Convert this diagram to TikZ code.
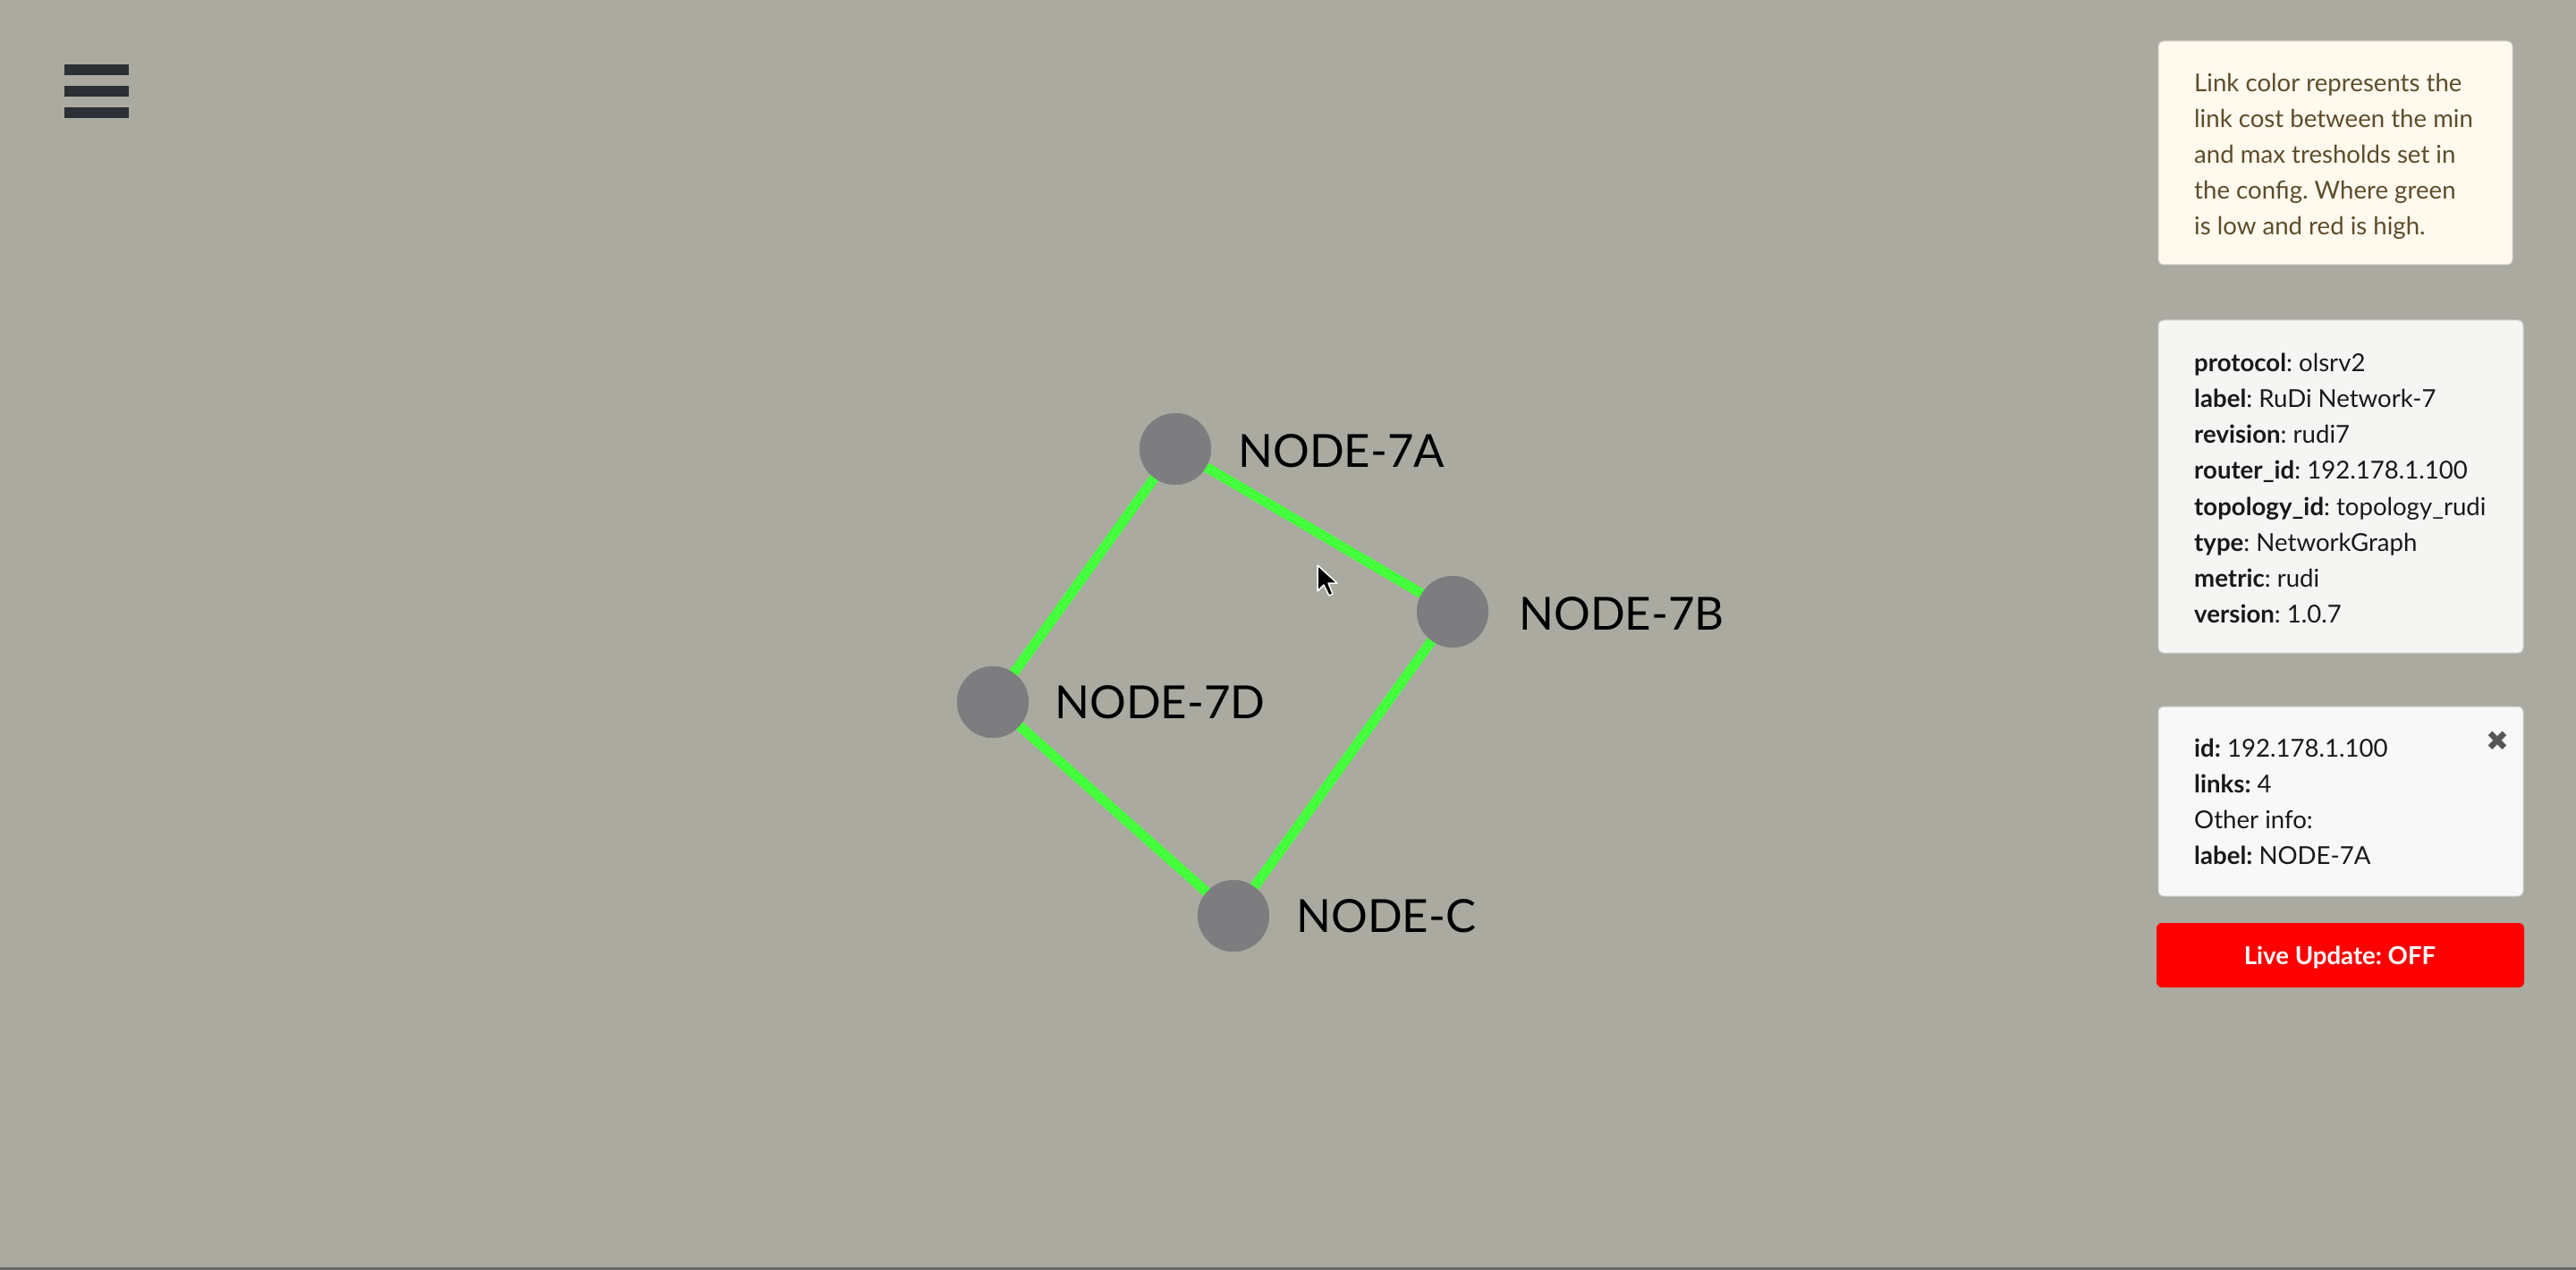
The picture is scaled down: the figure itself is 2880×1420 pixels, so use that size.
\documentclass[tikz,border=0pt]{standalone}
\usepackage{fontspec}
\setmainfont{Lato}
\newfontfamily\symfont{DejaVu Sans}
\usetikzlibrary{calc}
\frenchspacing
\definecolor{bgc}{RGB}{170,170,160}
\definecolor{linkc}{RGB}{68,255,60}
\definecolor{nodec}{RGB}{125,125,128}
\definecolor{creamc}{RGB}{255,249,238}
\definecolor{infoc}{RGB}{245,245,244}
\definecolor{selc}{RGB}{248,248,248}
\definecolor{borderc}{RGB}{205,205,200}
\definecolor{browntext}{RGB}{94,76,42}
\definecolor{darktext}{RGB}{25,25,25}
\definecolor{barc}{RGB}{44,47,51}
\definecolor{btnred}{RGB}{255,0,0}
\definecolor{closec}{RGB}{85,85,85}
\tikzset{
  link/.style={draw=linkc, line width=11pt},
  netnode/.style={circle, fill=nodec, minimum size=80pt, inner sep=0pt},
  netlabel/.style={anchor=base west, inner sep=0pt, text=black, font=\fontsize{51}{60}\selectfont},
  panel/.style={draw=borderc, line width=1pt, rounded corners=6pt},
  ptext/.style={anchor=base west, inner sep=0pt, font=\fontsize{27.6}{40}\selectfont},
  bar/.style={fill=barc},
}
\begin{document}
\begin{tikzpicture}[x=1pt,y=-1pt]
\useasboundingbox (0,0) rectangle (2880,1420);
\fill[bgc] (0,0) rectangle (2880,1420);
\fill[black!60] (0,1417) rectangle (2880,1420);
% hamburger
\fill[bar] (72,72) rectangle (144,84);
\fill[bar] (72,96) rectangle (144,108);
\fill[bar] (72,120) rectangle (144,132);
% network nodes
\node[netnode] (a) at (1314,502) {};
\node[netnode] (b) at (1624,684) {};
\node[netnode] (d) at (1110,785) {};
\node[netnode] (c) at (1379,1024) {};
\draw[link] (a.center) -- (b.center);
\draw[link] (a.center) -- (d.center);
\draw[link] (d.center) -- (c.center);
\draw[link] (c.center) -- (b.center);
\node[netnode] at (a.center) {};
\node[netnode] at (b.center) {};
\node[netnode] at (d.center) {};
\node[netnode] at (c.center) {};
\node[netlabel] (la) at ($(a.center)+(70,20)$) {NODE-7A};
\node[netlabel] (lb) at ($(b.center)+(74,20)$) {NODE-7B};
\node[netlabel] (ld) at ($(d.center)+(69,18)$) {NODE-7D};
\node[netlabel] (lc) at ($(c.center)+(70,18)$) {NODE-C};
% cursor
\fill[black, draw=white, line width=1.5pt, line join=round]
  (1473,632) -- ++(0,29) -- ++(7,-7) -- ++(6,12) -- ++(4,-2) -- ++(-5,-12) -- ++(10,0) -- cycle;
% panel 1
\draw[panel, fill=creamc] (2413,46) rectangle (2809,296);
\node[ptext, text=browntext] (t1) at (2453,103) {Link color represents the};
\node[ptext, text=browntext] (t2) at (2453,143) {link cost between the min};
\node[ptext, text=browntext] (t3) at (2453,183) {and max tresholds set in};
\node[ptext, text=browntext] (t4) at (2453,223) {the config. Where green};
\node[ptext, text=browntext] (t5) at (2453,263) {is low and red is high.};
% panel 2
\draw[panel, fill=infoc] (2413,358) rectangle (2821,730);
\node[ptext, text=darktext] (i1) at (2453,415) {\textbf{protocol}: olsrv2};
\node[ptext, text=darktext] (i2) at (2453,455) {\textbf{label}: RuDi Network-7};
\node[ptext, text=darktext] (i3) at (2453,495.5) {\textbf{revision}: rudi7};
\node[ptext, text=darktext] (i4) at (2453,535.5) {\textbf{router\_id}: 192.178.1.100};
\node[ptext, text=darktext] (i5) at (2453,576) {\textbf{topology\_id}: topology\_rudi};
\node[ptext, text=darktext] (i6) at (2453,616) {\textbf{type}: NetworkGraph};
\node[ptext, text=darktext] (i7) at (2453,656) {\textbf{metric}: rudi};
\node[ptext, text=darktext] (i8) at (2453,696) {\textbf{version}: 1.0.7};
% panel 3
\draw[panel, fill=selc] (2413,790) rectangle (2821,1002);
\node[ptext, text=darktext] (s1) at (2453,846) {\textbf{id:} 192.178.1.100};
\node[ptext, text=darktext] (s2) at (2453,886) {\textbf{links:} 4};
\node[ptext, text=darktext] (s3) at (2453,926) {Other info:};
\node[ptext, text=darktext] (s4) at (2453,966) {\textbf{label:} NODE-7A};
\node[text=closec, inner sep=0pt, font=\symfont\fontsize{31}{31}\selectfont] (x) at (2792,829) {✖};
% button
\fill[btnred, rounded corners=6pt] (2411,1032) rectangle (2822,1104);
\node[anchor=base, inner sep=0pt, text=white, font=\fontsize{27.6}{30}\selectfont\bfseries] (btn) at (2616,1078) {Live Update: OFF};
\end{tikzpicture}
\end{document}
